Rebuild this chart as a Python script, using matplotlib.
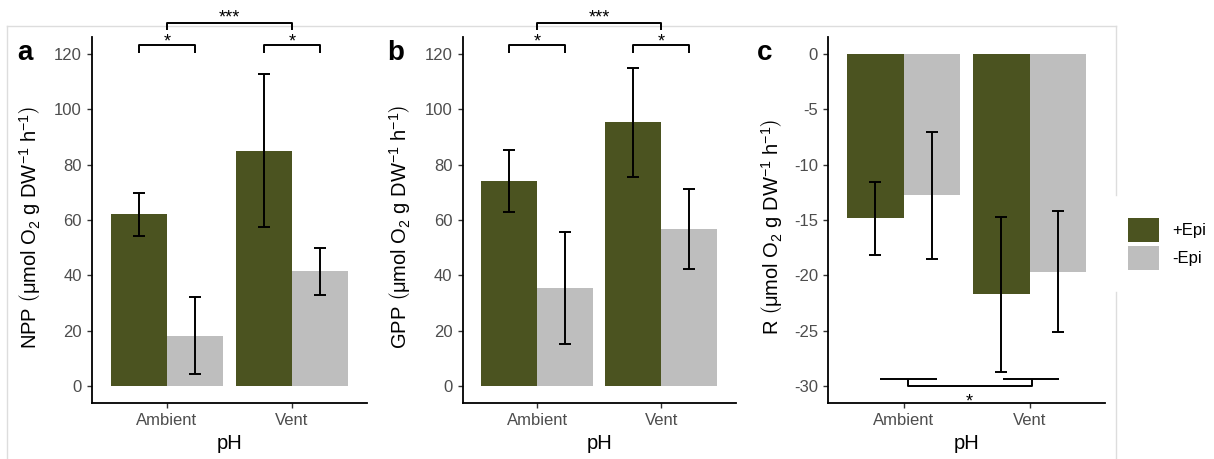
import matplotlib
matplotlib.use('Agg')
import matplotlib.pyplot as plt
from matplotlib.patches import Patch
from matplotlib.lines import Line2D
import numpy as np

plt.rcParams['font.family'] = ['Liberation Sans', 'DejaVu Sans']
plt.rcParams['mathtext.fontset'] = 'custom'
plt.rcParams['mathtext.rm'] = 'Liberation Sans'
plt.rcParams['mathtext.it'] = 'Liberation Sans:italic'
plt.rcParams['mathtext.bf'] = 'Liberation Sans:bold'
plt.rcParams['axes.unicode_minus'] = False

# ---------------- data ----------------
sites = ['Ambient', 'Vent']
groups = ['+Epi', '-Epi']

npp_plus = [62.0, 84.9]
npp_plus_lo = [54.2, 57.3]
npp_plus_hi = [69.8, 112.7]
npp_minus = [18.3, 41.5]
npp_minus_lo = [4.5, 32.8]
npp_minus_hi = [32.3, 50.0]

gpp_plus = [74.2, 95.3]
gpp_plus_lo = [62.9, 75.5]
gpp_plus_hi = [85.2, 115.0]
gpp_minus = [35.5, 56.8]
gpp_minus_lo = [15.4, 42.4]
gpp_minus_hi = [55.7, 71.1]

r_plus = [-14.85, -21.7]
r_plus_lo = [-18.2, -28.7]
r_plus_hi = [-11.55, -14.7]
r_minus = [-12.75, -19.65]
r_minus_lo = [-18.5, -25.1]
r_minus_hi = [-7.07, -14.2]

yticks_pos = [0, 20, 40, 60, 80, 100, 120]
yticks_r = [0, -5, -10, -15, -20, -25, -30]

OLIVE = '#4B5320'
GREY = '#BEBEBE'
TICKCOL = '#4D4D4D'

W, H = 1214, 459
fig = plt.figure(figsize=(W / 100, H / 100), dpi=100)


def px_x(x):
    return x / W


def px_y(y):
    return 1 - y / H


bottom = px_y(403)
height = px_y(37) - bottom
axa = fig.add_axes([px_x(92), bottom, 275 / W, height])
axb = fig.add_axes([px_x(462.7), bottom, 273 / W, height])
axc = fig.add_axes([px_x(828.3), bottom, 276.7 / W, height])

ylab_tail = r'$\left(\mathrm{\mu mol\ O_2\ g\ DW^{-1}\ h^{-1}}\right)$'


def panel(ax, plus, plo, phi, minus, mlo, mhi, ylim, yticks, ylabel, labx):
    x = np.arange(1, len(sites) + 1)
    w = 0.45
    ax.bar(x - w / 2, plus, width=w, color=OLIVE, linewidth=0, zorder=2)
    ax.bar(x + w / 2, minus, width=w, color=GREY, linewidth=0, zorder=2)
    plus = np.array(plus); minus = np.array(minus)
    ax.errorbar(x - w / 2, plus, yerr=[plus - np.array(plo), np.array(phi) - plus],
                fmt='none', ecolor='black', elinewidth=1.4, capsize=4.6,
                capthick=1.4, zorder=3)
    ax.errorbar(x + w / 2, minus, yerr=[minus - np.array(mlo), np.array(mhi) - minus],
                fmt='none', ecolor='black', elinewidth=1.4, capsize=4.6,
                capthick=1.4, zorder=3)
    ax.set_xlim(0.4, 2.6)
    ax.set_ylim(*ylim)
    ax.set_xticks(x)
    ax.set_xticklabels(sites)
    ax.set_yticks(yticks)
    ax.set_yticklabels([str(t) for t in yticks])
    for s in ['top', 'right']:
        ax.spines[s].set_visible(False)
    for s in ['left', 'bottom']:
        ax.spines[s].set_linewidth(1.3)
        ax.spines[s].set_color('black')
    ax.tick_params(axis='both', length=3.6, width=1.0, color='#333333',
                   labelcolor=TICKCOL, labelsize=12, pad=3.8)
    ax.set_facecolor('none')
    ax.set_xlabel('pH', fontsize=14.5, labelpad=4)
    ax.set_ylabel(ylabel, fontsize=14.5)
    ax.yaxis.set_label_coords(labx, 0.48)


panel(axa, npp_plus, npp_plus_lo, npp_plus_hi, npp_minus, npp_minus_lo, npp_minus_hi,
      (-6, 126), yticks_pos, 'NPP ' + ylab_tail, -0.178)
panel(axb, gpp_plus, gpp_plus_lo, gpp_plus_hi, gpp_minus, gpp_minus_lo, gpp_minus_hi,
      (-6, 126), yticks_pos, 'GPP ' + ylab_tail, -0.182)
panel(axc, r_plus, r_plus_lo, r_plus_hi, r_minus, r_minus_lo, r_minus_hi,
      (-31.5, 1.5), yticks_r, 'R ' + ylab_tail, -0.158)

LW = 1.4


def seg(ax, xs, ys):
    ax.plot(xs, ys, color='black', lw=LW, clip_on=False, zorder=4,
            solid_capstyle='butt')


def star(ax, x, y, s, size=13):
    ax.annotate(s, xy=(x, y), xytext=(0, -0.58 * size), textcoords='offset points',
                ha='center', va='baseline', fontsize=size, annotation_clip=False)


for ax in (axa, axb):
    # small brackets
    for x0, x1, xs in ((0.775, 1.225, 1.0), (1.775, 2.225, 2.0)):
        seg(ax, [x0, x0, x1, x1], [120.4, 123.0, 123.0, 120.4])
        star(ax, xs, 126.3, '*')
    # big bracket
    seg(ax, [1.0, 1.0, 2.0, 2.0], [128.7, 131.0, 131.0, 128.7])
    star(ax, 1.5, 134.9, '***')

# panel c inverted bracket
seg(axc, [0.814, 1.265], [-29.3, -29.3])
seg(axc, [1.786, 2.236], [-29.3, -29.3])
seg(axc, [1.034, 1.034, 2.016, 2.016], [-29.3, -30.0, -30.0, -29.3])
star(axc, 1.52, -30.85, '*')

# panel letters
for lab, xp in (('a', 17), ('b', 387), ('c', 757)):
    fig.text(px_x(xp), px_y(60), lab, fontsize=20, fontweight='bold',
             ha='left', va='baseline')

# light grey frame around the combined figure
frame_col = '#DDDDDD'
for xs, ys in (((7, 1116), (26, 26)), ((7, 7), (26, 470)),
               ((1116, 1116), (26, 195)), ((1116, 1116), (292, 470))):
    fig.add_artist(Line2D([px_x(v) for v in xs], [px_y(v) for v in ys],
                          color=frame_col, lw=1.0, zorder=-1))

handles = [Patch(facecolor=OLIVE, edgecolor='none', label=groups[0]),
           Patch(facecolor=GREY, edgecolor='none', label=groups[1])]
fig.legend(handles=handles, loc='upper left',
           bbox_to_anchor=(px_x(1128), px_y(218)), frameon=False,
           fontsize=12, handlelength=1.86, handleheight=1.86,
           handletextpad=0.78, labelspacing=0.2, borderpad=0, borderaxespad=0)

fig.savefig('out.png', dpi=100, facecolor='white')
